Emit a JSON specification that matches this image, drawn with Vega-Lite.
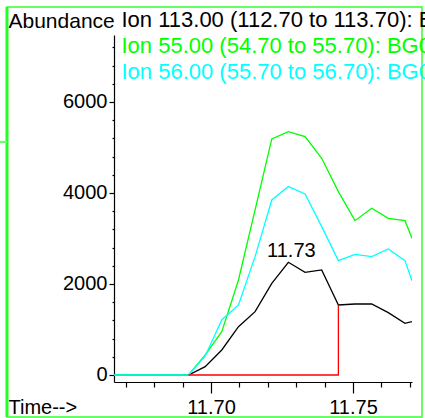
{
  "$schema": "https://vega.github.io/schema/vega-lite/v6.json",
  "autosize": "none",
  "width": 298,
  "height": 347,
  "padding": {"left": 114, "top": 35, "right": 13, "bottom": 36},
  "background": "white",
  "config": {
    "view": {"stroke": null},
    "font": "Liberation Sans"
  },
  "resolve": {"axis": {"x": "independent", "y": "independent"}},
  "layer": [
    {
      "data": {"values": [{}]},
      "mark": {"type": "rect", "fill": null, "stroke": "#33ff33", "strokeWidth": 1.5, "clip": false},
      "encoding": {
        "x": {"datum": 11.628169, "type": "quantitative", "scale": {"domain": [11.66585, 11.77078], "nice": false, "zero": false}, "axis": null},
        "x2": {"datum": 11.774296},
        "y": {"datum": 8087, "type": "quantitative", "scale": {"domain": [-154, 7472], "nice": false, "zero": false}, "axis": null},
        "y2": {"datum": -923}
      }
    },
    {
      "data": {"values": [{}]},
      "mark": {"type": "rule", "stroke": "#22ff22", "strokeWidth": 3, "clip": false},
      "encoding": {
        "x": {"datum": 11.628169, "type": "quantitative", "scale": {"domain": [11.66585, 11.77078], "nice": false, "zero": false}, "axis": null},
        "y": {"datum": 8087, "type": "quantitative", "scale": {"domain": [-154, 7472], "nice": false, "zero": false}, "axis": null},
        "y2": {"datum": -923}
      }
    },
    {
      "data": {"values": [{}]},
      "mark": {"type": "rule", "stroke": "#66ff66", "strokeWidth": 2, "clip": false},
      "encoding": {
        "x": {"datum": 11.6257, "type": "quantitative", "scale": {"domain": [11.66585, 11.77078], "nice": false, "zero": false}, "axis": null},
        "x2": {"datum": 11.628169},
        "y": {"datum": 5120, "type": "quantitative", "scale": {"domain": [-154, 7472], "nice": false, "zero": false}, "axis": null}
      }
    },
    {
      "data": {"values": [
        {"t": 11.66585, "ion113": 0, "ion55": 0, "ion56": 0},
        {"t": 11.66863, "ion113": 0, "ion55": 0, "ion56": 0},
        {"t": 11.67451, "ion113": 0, "ion55": 0, "ion56": 0},
        {"t": 11.68035, "ion113": 0, "ion55": 0, "ion56": 0},
        {"t": 11.68623, "ion113": 0, "ion55": 0, "ion56": 0},
        {"t": 11.69208, "ion113": 0, "ion55": 0, "ion56": 0},
        {"t": 11.69796, "ion113": 183, "ion55": 440, "ion56": 418},
        {"t": 11.70380, "ion113": 550, "ion55": 952, "ion56": 1209},
        {"t": 11.70968, "ion113": 1062, "ion55": 2088, "ion56": 1539},
        {"t": 11.71553, "ion113": 1392, "ion55": 3627, "ion56": 2601},
        {"t": 11.72141, "ion113": 2015, "ion55": 5187, "ion56": 3847},
        {"t": 11.72725, "ion113": 2477, "ion55": 5349, "ion56": 4140},
        {"t": 11.73313, "ion113": 2257, "ion55": 5238, "ion56": 3978},
        {"t": 11.73898, "ion113": 2308, "ion55": 4762, "ion56": 3260},
        {"t": 11.74486, "ion113": 1539, "ion55": 4029, "ion56": 2513},
        {"t": 11.75070, "ion113": 1560, "ion55": 3392, "ion56": 2652},
        {"t": 11.75658, "ion113": 1560, "ion55": 3663, "ion56": 2601},
        {"t": 11.76243, "ion113": 1370, "ion55": 3443, "ion56": 2770},
        {"t": 11.76831, "ion113": 1136, "ion55": 3392, "ion56": 2513},
        {"t": 11.77078, "ion113": 1172, "ion55": 3004, "ion56": 2073}
      ]},
      "transform": [{"fold": ["ion113", "ion55", "ion56"], "as": ["ion", "abundance"]}],
      "mark": {"type": "line", "strokeWidth": 1.3, "clip": true},
      "encoding": {
        "x": {
          "field": "t", "type": "quantitative",
          "scale": {"domain": [11.66585, 11.77078], "nice": false, "zero": false},
          "axis": {
            "orient": "bottom",
            "values": [11.7, 11.75],
            "format": ".2f",
            "tickSize": 11,
            "grid": false,
            "domainColor": "black", "tickColor": "black", "domainWidth": 1.2, "tickWidth": 1.2,
            "labelFont": "Liberation Sans", "labelFontSize": 20, "labelColor": "black",
            "labelPadding": 4, "labelFlush": false, "labelOverlap": false,
            "title": "Time-->", "titleFont": "Liberation Sans", "titleFontSize": 20, "titleFontWeight": "normal",
            "titleColor": "black", "titleAlign": "left", "titleBaseline": "alphabetic", "titleAnchor": "start",
            "titleX": -106, "titleY": 31
          }
        },
        "y": {
          "field": "abundance", "type": "quantitative",
          "scale": {"domain": [-154, 7472], "nice": false, "zero": false},
          "axis": {
            "orient": "left",
            "values": [0, 2000, 4000, 6000],
            "format": "d",
            "tickSize": 5,
            "grid": false,
            "domainColor": "black", "tickColor": "black", "domainWidth": 1.2, "tickWidth": 1.2,
            "labelFont": "Liberation Sans", "labelFontSize": 20, "labelColor": "black",
            "labelPadding": 2, "labelFlush": false, "labelOverlap": false,
            "title": "Abundance", "titleFont": "Liberation Sans", "titleFontSize": 21, "titleFontWeight": "normal",
            "titleColor": "black", "titleAngle": 0, "titleAlign": "left", "titleBaseline": "alphabetic",
            "titleX": -106, "titleY": -8
          }
        },
        "color": {
          "field": "ion", "type": "nominal",
          "scale": {"domain": ["ion113", "ion55", "ion56"], "range": ["#000000", "#00ff00", "#00ffff"]},
          "legend": null
        }
      }
    },
    {
      "data": {"values": [
        {"t": 11.69208, "abundance": 0, "k": 0},
        {"t": 11.74486, "abundance": 0, "k": 1},
        {"t": 11.74486, "abundance": 1539, "k": 2}
      ]},
      "mark": {"type": "line", "color": "#ff0000", "strokeWidth": 1.3},
      "encoding": {
        "x": {
          "field": "t", "type": "quantitative",
          "scale": {"domain": [11.66585, 11.77078], "nice": false, "zero": false},
          "axis": {
            "orient": "bottom",
            "values": [11.67, 11.68, 11.69, 11.71, 11.72, 11.73, 11.74, 11.76, 11.77],
            "tickSize": 5, "tickColor": "black", "tickWidth": 1.2,
            "labels": false, "domain": false, "grid": false, "title": null
          }
        },
        "y": {
          "field": "abundance", "type": "quantitative",
          "scale": {"domain": [-154, 7472], "nice": false, "zero": false},
          "axis": {
            "orient": "left",
            "values": [400, 800, 1200, 1600, 2400, 2800, 3200, 3600, 4400, 4800, 5200, 5600, 6400, 6800, 7200],
            "tickSize": 2, "tickColor": "black", "tickWidth": 1.2,
            "labels": false, "domain": false, "grid": false, "title": null
          }
        },
        "order": {"field": "k", "type": "quantitative"}
      }
    },
    {
      "data": {"values": [{"t": 11.72725, "abundance": 2477, "label": "11.73"}]},
      "mark": {"type": "text", "fontSize": 20, "font": "Liberation Sans", "color": "black", "align": "center", "baseline": "alphabetic", "dx": 3, "dy": -5},
      "encoding": {
        "x": {"field": "t", "type": "quantitative", "scale": {"domain": [11.66585, 11.77078], "nice": false, "zero": false}, "axis": null},
        "y": {"field": "abundance", "type": "quantitative", "scale": {"domain": [-154, 7472], "nice": false, "zero": false}, "axis": null},
        "text": {"field": "label"}
      }
    },
    {
      "data": {"values": [{}]},
      "mark": {"type": "text", "text": "Ion 113.00 (112.70 to 113.70): BG0", "fontSize": 22, "font": "Liberation Sans", "color": "black", "align": "left", "baseline": "alphabetic", "clip": false},
      "encoding": {
        "x": {"datum": 11.66849, "type": "quantitative", "scale": {"domain": [11.66585, 11.77078], "nice": false, "zero": false}, "axis": null},
        "y": {"datum": 7648, "type": "quantitative", "scale": {"domain": [-154, 7472], "nice": false, "zero": false}, "axis": null}
      }
    },
    {
      "data": {"values": [{}]},
      "mark": {"type": "text", "text": "Ion  55.00 (54.70 to 55.70): BG0", "fontSize": 22, "font": "Liberation Sans", "color": "#00ff00", "align": "left", "baseline": "alphabetic", "clip": false},
      "encoding": {
        "x": {"datum": 11.66849, "type": "quantitative", "scale": {"domain": [11.66585, 11.77078], "nice": false, "zero": false}, "axis": null},
        "y": {"datum": 7076, "type": "quantitative", "scale": {"domain": [-154, 7472], "nice": false, "zero": false}, "axis": null}
      }
    },
    {
      "data": {"values": [{}]},
      "mark": {"type": "text", "text": "Ion  56.00 (55.70 to 56.70): BG0", "fontSize": 22, "font": "Liberation Sans", "color": "#00ffff", "align": "left", "baseline": "alphabetic", "clip": false},
      "encoding": {
        "x": {"datum": 11.66849, "type": "quantitative", "scale": {"domain": [11.66585, 11.77078], "nice": false, "zero": false}, "axis": null},
        "y": {"datum": 6505, "type": "quantitative", "scale": {"domain": [-154, 7472], "nice": false, "zero": false}, "axis": null}
      }
    }
  ]
}
